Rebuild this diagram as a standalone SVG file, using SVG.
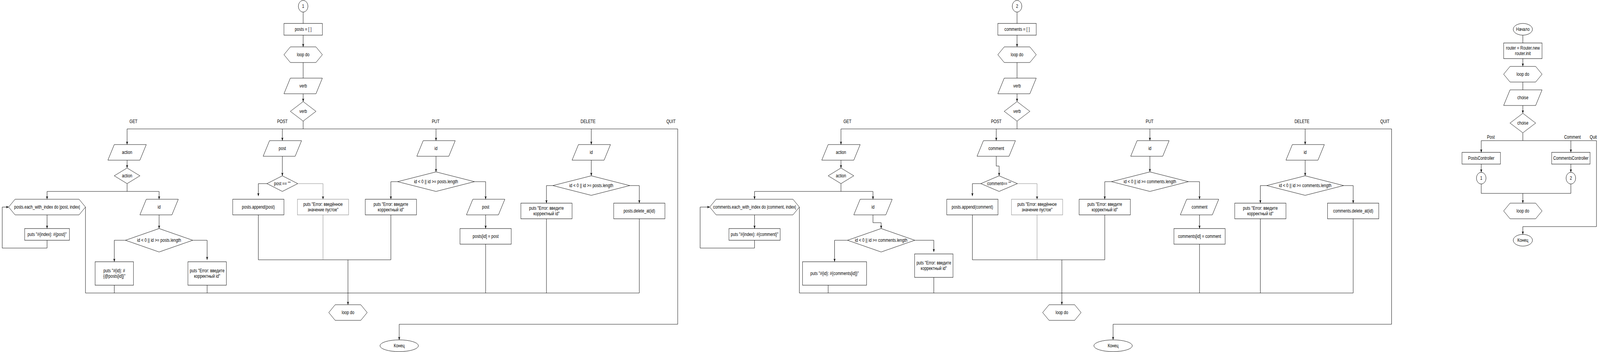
<svg xmlns="http://www.w3.org/2000/svg" width="4998" height="901" viewBox="0 0 4998 901" preserveAspectRatio="none" style="width:100vw;height:100vh;display:block">
<style>
.s{fill:#fff;stroke:#000;stroke-width:1}
.g{fill:#fff;stroke:#808080;stroke-width:1}
.e{fill:none;stroke:#000;stroke-width:1}
.eg{fill:none;stroke:#808080;stroke-width:1}
text{font-family:"Liberation Sans",Arial,Helvetica,sans-serif;font-size:12px;fill:#000;text-anchor:middle}
</style>
<defs>
<marker id="a" viewBox="0 0 10 10" refX="10" refY="5" markerWidth="8" markerHeight="8" markerUnits="userSpaceOnUse" orient="auto">
<path d="M0,1 L10,5 L0,9 L2.5,5 z" fill="#000"/>
</marker>
</defs>
<rect x="0" y="0" width="4998" height="901" fill="#fff"/>

<!-- ================= Connectors ================= -->
<g id="connectors">
<!-- Diagram 1 -->
<path class="e" d="M947,31 V60"/>
<path class="e" d="M947,90 V120" marker-end="url(#a)"/>
<path class="e" d="M947,160 V200"/>
<path class="e" d="M947,240 V260" marker-end="url(#a)"/>
<path class="e" d="M947,310 V330"/>
<path class="e" d="M947,330 H397 V370" marker-end="url(#a)"/>
<path class="e" d="M882,330 V360" marker-end="url(#a)"/>
<path class="e" d="M947,330 H1362 V360" marker-end="url(#a)"/>
<path class="e" d="M1362,330 H1847 V370" marker-end="url(#a)"/>
<path class="e" d="M1847,330 H2117 V830 H1247 V870" marker-end="url(#a)"/>
<path class="e" d="M397,410 V430" marker-end="url(#a)"/>
<path class="e" d="M397,470 V490 H147 V510" marker-end="url(#a)"/>
<path class="e" d="M397,490 H497 V510" marker-end="url(#a)"/>
<path class="e" d="M147,550 V585" marker-end="url(#a)"/>
<path class="e" d="M147,615 V635 H7 V530 H27" marker-end="url(#a)"/>
<path class="e" d="M497,550 V585" marker-end="url(#a)"/>
<path class="e" d="M392,615 H357 V670" marker-end="url(#a)"/>
<path class="e" d="M602,615 H647 V665" marker-end="url(#a)"/>
<path class="e" d="M357,730 V750"/>
<path class="e" d="M647,730 V750"/>
<path class="e" d="M267,530 V750 H1997"/>
<path class="e" d="M882,400 V450" marker-end="url(#a)"/>
<path class="e" d="M834,470 H807 V502" marker-end="url(#a)"/>
<path class="eg" d="M930,470 H1009 V510" marker-end="url(#a)"/>
<path class="e" d="M807,550 V665 H1221"/>
<path class="eg" d="M1009,550 V665"/>
<path class="e" d="M1221,550 V665"/>
<path class="e" d="M1087,665 V780" marker-end="url(#a)"/>
<path class="e" d="M1362,400 V440" marker-end="url(#a)"/>
<path class="e" d="M1242,465 H1221 V510" marker-end="url(#a)"/>
<path class="e" d="M1482,465 H1517 V510" marker-end="url(#a)"/>
<path class="e" d="M1517,550 V585" marker-end="url(#a)"/>
<path class="e" d="M1517,625 V750"/>
<path class="e" d="M1847,410 V450" marker-end="url(#a)"/>
<path class="e" d="M1727,475 H1707 V520" marker-end="url(#a)"/>
<path class="e" d="M1967,475 H1997 V520" marker-end="url(#a)"/>
<path class="e" d="M1707,560 V750"/>
<path class="e" d="M1997,560 V750"/>

<!-- Diagram 2 -->
<path class="e" d="M3177,31 V60"/>
<path class="e" d="M3177,90 V120" marker-end="url(#a)"/>
<path class="e" d="M3177,160 V200"/>
<path class="e" d="M3177,240 V260" marker-end="url(#a)"/>
<path class="e" d="M3177,310 V330"/>
<path class="e" d="M3177,330 H2627 V370" marker-end="url(#a)"/>
<path class="e" d="M3112,330 V360" marker-end="url(#a)"/>
<path class="e" d="M3177,330 H3592 V360" marker-end="url(#a)"/>
<path class="e" d="M3592,330 H4077 V370" marker-end="url(#a)"/>
<path class="e" d="M4077,330 H4347 V830 H3477 V870" marker-end="url(#a)"/>
<path class="e" d="M2627,410 V430" marker-end="url(#a)"/>
<path class="e" d="M2627,470 V490 H2357 V510" marker-end="url(#a)"/>
<path class="e" d="M2627,490 H2727 V510" marker-end="url(#a)"/>
<path class="e" d="M2357,550 V585" marker-end="url(#a)"/>
<path class="e" d="M2357,615 V635 H2187 V530 H2217" marker-end="url(#a)"/>
<path class="e" d="M2727,550 V570 H2752.5 V585" marker-end="url(#a)"/>
<path class="e" d="M2647.5,615 H2607 V670" marker-end="url(#a)"/>
<path class="e" d="M2857.5,615 H2917 V645" marker-end="url(#a)"/>
<path class="e" d="M2587,730 V750"/>
<path class="e" d="M2917,710 V750"/>
<path class="e" d="M2497,530 V750 H4227"/>
<path class="e" d="M3112,400 V425 H3121 V450" marker-end="url(#a)"/>
<path class="e" d="M3064,470 H3037.5 V502" marker-end="url(#a)"/>
<path class="eg" d="M3178,470 H3239.5 V510" marker-end="url(#a)"/>
<path class="e" d="M3037.5,550 V665 H3451"/>
<path class="eg" d="M3239.5,550 V665"/>
<path class="e" d="M3451,550 V665"/>
<path class="e" d="M3317,665 V780" marker-end="url(#a)"/>
<path class="e" d="M3592,400 V440" marker-end="url(#a)"/>
<path class="e" d="M3472,465 H3451 V510" marker-end="url(#a)"/>
<path class="e" d="M3712,465 H3747 V510" marker-end="url(#a)"/>
<path class="e" d="M3747,550 V585" marker-end="url(#a)"/>
<path class="e" d="M3747,625 V750"/>
<path class="e" d="M4077,410 V450" marker-end="url(#a)"/>
<path class="e" d="M3957,475 H3937 V520" marker-end="url(#a)"/>
<path class="e" d="M4197,475 H4227 V520" marker-end="url(#a)"/>
<path class="e" d="M3937,560 V750"/>
<path class="e" d="M4227,560 V750"/>

<!-- Diagram 3 -->
<path class="e" d="M4757,90 V110"/>
<path class="e" d="M4757,150 V170" marker-end="url(#a)"/>
<path class="e" d="M4757,210 V230"/>
<path class="e" d="M4757,270 V290" marker-end="url(#a)"/>
<path class="e" d="M4757,340 V360 H4627 V390" marker-end="url(#a)"/>
<path class="e" d="M4757,360 H4907 V390" marker-end="url(#a)"/>
<path class="e" d="M4907,360 H4987 V580 H4757 V600" marker-end="url(#a)"/>
<path class="e" d="M4627,420 V441" marker-end="url(#a)"/>
<path class="e" d="M4907,420 V441" marker-end="url(#a)"/>
<path class="e" d="M4627,471 V495 H4907 V471"/>
<path class="e" d="M4757,495 V520" marker-end="url(#a)"/>
</g>

<!-- ================= Edge labels ================= -->
<g id="labels">
<text x="417" y="315">GET</text>
<text x="882" y="315">POST</text>
<text x="1361" y="315">PUT</text>
<text x="1837" y="315">DELETE</text>
<text x="2096" y="315">QUIT</text>
<text x="2647" y="315">GET</text>
<text x="3112" y="315">POST</text>
<text x="3591" y="315">PUT</text>
<text x="4067" y="315">DELETE</text>
<text x="4326" y="315">QUIT</text>
<text x="4657" y="355">Post</text>
<text x="4912" y="355">Comment</text>
<text x="4977" y="355">Quit</text>
</g>

<!-- ================= Diagram 1 nodes ================= -->
<g id="d1-start"><circle class="s" cx="947" cy="16" r="15"/><text x="947" y="20">1</text></g>
<g id="d1-init"><rect class="s" x="887" y="60" width="120" height="30"/><text x="947" y="79">posts = [ ]</text></g>
<g id="d1-loop"><polygon class="s" points="907,120 987,120 1007,140 987,160 907,160 887,140"/><text x="947" y="144">loop do</text></g>
<g id="d1-verb-in"><polygon class="s" points="907,200 1007,200 987,240 887,240"/><text x="947" y="224">verb</text></g>
<g id="d1-verb-dec"><polygon class="s" points="947,260 987,285 947,310 907,285"/><text x="947" y="289">verb</text></g>
<g id="d1-action-in"><polygon class="s" points="357,370 457,370 437,410 337,410"/><text x="397" y="394">action</text></g>
<g id="d1-action-dec"><polygon class="s" points="397,430 437,450 397,470 357,450"/><text x="397" y="454">action</text></g>
<g id="d1-each"><polygon class="s" points="47,510 247,510 267,530 247,550 47,550 27,530"/><text x="147" y="534">posts.each_with_index do |post, index|</text></g>
<g id="d1-puts-index"><rect class="s" x="77" y="585" width="140" height="30"/><text x="147" y="604">puts "#{index}: #{post}"</text></g>
<g id="d1-get-id"><polygon class="s" points="457,510 557,510 537,550 437,550"/><text x="497" y="534">id</text></g>
<g id="d1-get-check"><polygon class="s" points="497,585 602,615 497,645 392,615"/><text x="497" y="619">id &lt; 0 || id &gt;= posts.length</text></g>
<g id="d1-get-show"><rect class="s" x="297" y="670" width="120" height="60"/><text x="357" y="697">puts "#{id}: #</text><text x="357" y="711">{@posts[id]}"</text></g>
<g id="d1-get-err"><rect class="s" x="587" y="670" width="120" height="60"/><text x="647" y="697">puts "Error: введите</text><text x="647" y="711">корректный id"</text></g>
<g id="d1-post-in"><polygon class="s" points="842,360 942,360 922,400 822,400"/><text x="882" y="384">post</text></g>
<g id="d1-post-check"><polygon class="s" points="882,450 930,470 882,490 834,470"/><text x="882" y="474">post == ""</text></g>
<g id="d1-append"><rect class="s" x="727" y="510" width="160" height="40"/><text x="807" y="534">posts.append(post)</text></g>
<g id="d1-post-err"><rect class="g" x="929" y="510" width="160" height="40"/><text x="1009" y="527">puts "Error: введённое</text><text x="1009" y="541">значение пустое"</text></g>
<g id="d1-put-id"><polygon class="s" points="1322,360 1422,360 1402,400 1302,400"/><text x="1362" y="384">id</text></g>
<g id="d1-put-check"><polygon class="s" points="1362,440 1482,465 1362,490 1242,465"/><text x="1362" y="469">id &lt; 0 || id &gt;= posts.length</text></g>
<g id="d1-put-err"><rect class="s" x="1141" y="510" width="160" height="40"/><text x="1221" y="527">puts "Error: введите</text><text x="1221" y="541">корректный id"</text></g>
<g id="d1-put-post"><polygon class="s" points="1477,510 1577,510 1557,550 1457,550"/><text x="1517" y="534">post</text></g>
<g id="d1-put-assign"><rect class="s" x="1437" y="585" width="160" height="40"/><text x="1517" y="609">posts[id] = post</text></g>
<g id="d1-del-id"><polygon class="s" points="1807,370 1907,370 1887,410 1787,410"/><text x="1847" y="394">id</text></g>
<g id="d1-del-check"><polygon class="s" points="1847,450 1967,475 1847,500 1727,475"/><text x="1847" y="479">id &lt; 0 || id &gt;= posts.length</text></g>
<g id="d1-del-err"><rect class="s" x="1627" y="520" width="160" height="40"/><text x="1707" y="537">puts "Error: введите</text><text x="1707" y="551">корректный id"</text></g>
<g id="d1-delete"><rect class="s" x="1917" y="520" width="160" height="40"/><text x="1997" y="544">posts.delete_at(id)</text></g>
<g id="d1-loop-end"><polygon class="s" points="1047,780 1127,780 1147,800 1127,820 1047,820 1027,800"/><text x="1087" y="804">loop do</text></g>
<g id="d1-end"><ellipse class="s" cx="1247" cy="885" rx="60" ry="15"/><text x="1247" y="889">Конец</text></g>

<!-- ================= Diagram 2 nodes ================= -->
<g id="d2-start"><circle class="s" cx="3177" cy="16" r="15"/><text x="3177" y="20">2</text></g>
<g id="d2-init"><rect class="s" x="3117" y="60" width="120" height="30"/><text x="3177" y="79">comments = [ ]</text></g>
<g id="d2-loop"><polygon class="s" points="3137,120 3217,120 3237,140 3217,160 3137,160 3117,140"/><text x="3177" y="144">loop do</text></g>
<g id="d2-verb-in"><polygon class="s" points="3137,200 3237,200 3217,240 3117,240"/><text x="3177" y="224">verb</text></g>
<g id="d2-verb-dec"><polygon class="s" points="3177,260 3217,285 3177,310 3137,285"/><text x="3177" y="289">verb</text></g>
<g id="d2-action-in"><polygon class="s" points="2587,370 2687,370 2667,410 2567,410"/><text x="2627" y="394">action</text></g>
<g id="d2-action-dec"><polygon class="s" points="2627,430 2667,450 2627,470 2587,450"/><text x="2627" y="454">action</text></g>
<g id="d2-each"><polygon class="s" points="2237,510 2477,510 2497,530 2477,550 2237,550 2217,530"/><text x="2357" y="534">comments.each_with_index do |comment, index|</text></g>
<g id="d2-puts-index"><rect class="s" x="2277" y="585" width="160" height="30"/><text x="2357" y="604">puts "#{index}: #{comment}"</text></g>
<g id="d2-get-id"><polygon class="s" points="2687,510 2787,510 2767,550 2667,550"/><text x="2727" y="534">id</text></g>
<g id="d2-get-check"><polygon class="s" points="2752.5,585 2857.5,615 2752.5,645 2647.5,615"/><text x="2752.5" y="619">id &lt; 0 || id &gt;= comments.length</text></g>
<g id="d2-get-show"><rect class="s" x="2507" y="670" width="200" height="60"/><text x="2607" y="704">puts "#{id}: #{comments[id]}"</text></g>
<g id="d2-get-err"><rect class="s" x="2857" y="650" width="120" height="60"/><text x="2917" y="677">puts "Error: введите</text><text x="2917" y="691">корректный id"</text></g>
<g id="d2-comment-in"><polygon class="s" points="3072,360 3172,360 3152,400 3052,400"/><text x="3112" y="384">comment</text></g>
<g id="d2-comment-check"><polygon class="s" points="3121,450 3178,470 3121,490 3064,470"/><text x="3121" y="474">comment== ""</text></g>
<g id="d2-append"><rect class="s" x="2957.5" y="510" width="160" height="40"/><text x="3037.5" y="534">posts.append(comment)</text></g>
<g id="d2-post-err"><rect class="g" x="3159.5" y="510" width="160" height="40"/><text x="3239.5" y="527">puts "Error: введённое</text><text x="3239.5" y="541">значение пустое"</text></g>
<g id="d2-put-id"><polygon class="s" points="3552,360 3652,360 3632,400 3532,400"/><text x="3592" y="384">id</text></g>
<g id="d2-put-check"><polygon class="s" points="3592,440 3712,465 3592,490 3472,465"/><text x="3592" y="469">id &lt; 0 || id &gt;= comments.length</text></g>
<g id="d2-put-err"><rect class="s" x="3371" y="510" width="160" height="40"/><text x="3451" y="527">puts "Error: введите</text><text x="3451" y="541">корректный id"</text></g>
<g id="d2-put-comment"><polygon class="s" points="3707,510 3807,510 3787,550 3687,550"/><text x="3747" y="534">comment</text></g>
<g id="d2-put-assign"><rect class="s" x="3667" y="585" width="160" height="40"/><text x="3747" y="609">comments[id] = comment</text></g>
<g id="d2-del-id"><polygon class="s" points="4037,370 4137,370 4117,410 4017,410"/><text x="4077" y="394">id</text></g>
<g id="d2-del-check"><polygon class="s" points="4077,450 4197,475 4077,500 3957,475"/><text x="4077" y="479">id &lt; 0 || id &gt;= comments.length</text></g>
<g id="d2-del-err"><rect class="s" x="3857" y="520" width="160" height="40"/><text x="3937" y="537">puts "Error: введите</text><text x="3937" y="551">корректный id"</text></g>
<g id="d2-delete"><rect class="s" x="4147" y="520" width="160" height="40"/><text x="4227" y="544">comments.delete_at(id)</text></g>
<g id="d2-loop-end"><polygon class="s" points="3277,780 3357,780 3377,800 3357,820 3277,820 3257,800"/><text x="3317" y="804">loop do</text></g>
<g id="d2-end"><ellipse class="s" cx="3477" cy="885" rx="60" ry="15"/><text x="3477" y="889">Конец</text></g>

<!-- ================= Diagram 3 nodes ================= -->
<g id="d3-start"><ellipse class="s" cx="4757" cy="75" rx="30" ry="15"/><text x="4757" y="79">Начало</text></g>
<g id="d3-router"><rect class="s" x="4697" y="110" width="120" height="40"/><text x="4757" y="127">router = Router.new</text><text x="4757" y="141">router.init</text></g>
<g id="d3-loop"><polygon class="s" points="4717,170 4797,170 4817,190 4797,210 4717,210 4697,190"/><text x="4757" y="194">loop do</text></g>
<g id="d3-choise-in"><polygon class="s" points="4717,230 4817,230 4797,270 4697,270"/><text x="4757" y="254">choise</text></g>
<g id="d3-choise-dec"><polygon class="s" points="4757,290 4797,315 4757,340 4717,315"/><text x="4757" y="319">choise</text></g>
<g id="d3-posts"><rect class="s" x="4567" y="390" width="120" height="30"/><text x="4627" y="409">PostsController</text></g>
<g id="d3-comments"><rect class="s" x="4847" y="390" width="120" height="30"/><text x="4907" y="409">CommentsController</text></g>
<g id="d3-c1"><circle class="s" cx="4627" cy="456" r="15"/><text x="4627" y="460">1</text></g>
<g id="d3-c2"><circle class="s" cx="4907" cy="456" r="15"/><text x="4907" y="460">2</text></g>
<g id="d3-loop-end"><polygon class="s" points="4717,520 4797,520 4817,540 4797,560 4717,560 4697,540"/><text x="4757" y="544">loop do</text></g>
<g id="d3-end"><ellipse class="s" cx="4757" cy="615" rx="30" ry="15"/><text x="4757" y="619">Конец</text></g>
</svg>
